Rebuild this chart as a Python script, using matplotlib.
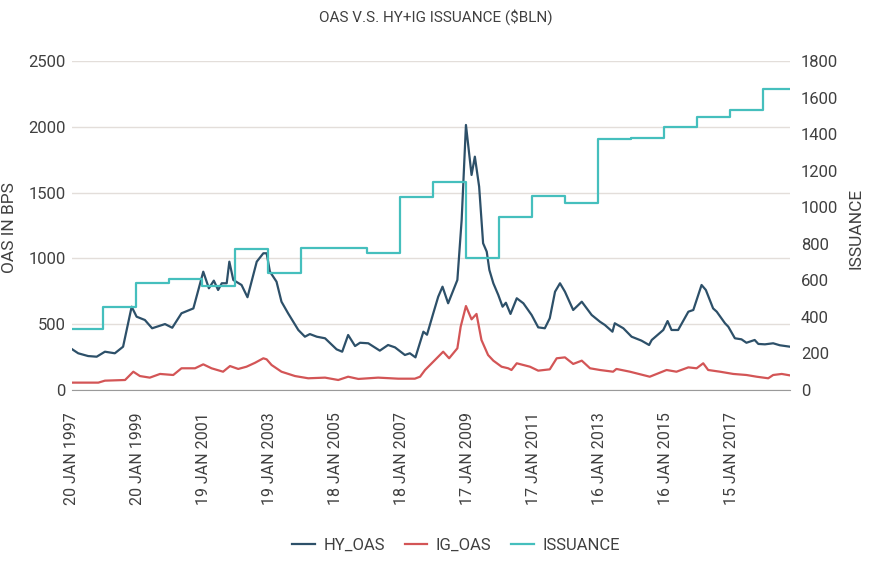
"""
OAS (HY / IG) vs emissions HY+IG anuals, dos eixos Y.
"""

import numpy as np
import pandas as pd
import matplotlib
matplotlib.use("Agg")
import matplotlib.pyplot as plt
import matplotlib.transforms as mtransforms

# --- Dades llegides del grafic (anys decimals) ---
HY_YEARS = [1997.06, 1997.24, 1997.54, 1997.80, 1998.05, 1998.35, 1998.60, 1998.86,
            1999.01, 1999.26, 1999.48, 1999.87, 2000.09, 2000.37, 2000.73, 2001.03,
            2001.20, 2001.35, 2001.48, 2001.59, 2001.74, 2001.82, 2001.94, 2002.19,
            2002.37, 2002.65, 2002.85, 2002.95, 2003.05, 2003.25, 2003.40, 2003.60,
            2003.91, 2004.11, 2004.26, 2004.47, 2004.72, 2005.07, 2005.24, 2005.42,
            2005.63, 2005.78, 2006.03, 2006.38, 2006.63, 2006.84, 2007.14, 2007.29,
            2007.46, 2007.70, 2007.81, 2008.00, 2008.15, 2008.28, 2008.45, 2008.73,
            2008.86, 2008.99, 2009.16, 2009.26, 2009.39, 2009.51, 2009.62, 2009.70,
            2009.82, 2009.97, 2010.10, 2010.20, 2010.34, 2010.53, 2010.73, 2010.98,
            2011.18, 2011.38, 2011.53, 2011.69, 2011.84, 2011.99, 2012.24, 2012.50,
            2012.80, 2013.05, 2013.20, 2013.43, 2013.50, 2013.76, 2014.01, 2014.31,
            2014.54, 2014.62, 2014.97, 2015.10, 2015.22, 2015.42, 2015.73, 2015.88,
            2016.13, 2016.26, 2016.48, 2016.59, 2016.84, 2016.94, 2017.14, 2017.34,
            2017.49, 2017.74, 2017.85, 2018.05, 2018.30, 2018.50, 2018.81]
HY_OAS = [309, 279, 258, 253, 291, 279, 329, 633,
          557, 532, 469, 501, 473, 583, 620, 899,
          773, 831, 760, 811, 811, 975, 836, 798,
          705, 975, 1039, 1039, 899, 823, 671, 583,
          456, 405, 425, 405, 393, 309, 291, 418,
          334, 359, 355, 299, 342, 324, 266, 279,
          248, 443, 420, 583, 709, 785, 659, 836,
          1292, 2014, 1634, 1773, 1545, 1115, 1051, 912,
          811, 722, 633, 663, 578, 697, 659, 570,
          476, 469, 545, 747, 811, 747, 608, 671,
          570, 519, 494, 443, 507, 469, 405, 375,
          342, 380, 456, 524, 456, 456, 595, 608,
          798, 760, 620, 595, 507, 481, 393, 385,
          359, 380, 350, 347, 355, 340, 329]

IG_YEARS = [1997.06, 1997.85, 1998.05, 1998.66, 1998.91, 1999.11, 1999.41, 1999.72,
            2000.12, 2000.37, 2000.78, 2001.03, 2001.28, 2001.63, 2001.84, 2002.09,
            2002.34, 2002.60, 2002.85, 2002.95, 2003.10, 2003.40, 2003.81, 2004.21,
            2004.72, 2005.12, 2005.42, 2005.73, 2006.33, 2006.94, 2007.44, 2007.60,
            2007.75, 2008.00, 2008.30, 2008.48, 2008.73, 2008.83, 2008.99, 2009.16,
            2009.31, 2009.46, 2009.66, 2009.82, 2010.07, 2010.27, 2010.37, 2010.53,
            2010.93, 2011.18, 2011.53, 2011.74, 2011.99, 2012.24, 2012.50, 2012.75,
            2013.05, 2013.45, 2013.55, 2013.96, 2014.56, 2015.07, 2015.37, 2015.73,
            2015.98, 2016.18, 2016.33, 2016.69, 2017.09, 2017.49, 2017.80, 2018.15,
            2018.30, 2018.56, 2018.81]
IG_OAS = [56, 56, 71, 76, 139, 106, 94, 122,
          114, 165, 165, 195, 165, 139, 182, 160,
          177, 207, 241, 233, 190, 139, 106, 89,
          94, 76, 101, 84, 94, 86, 86, 101,
          152, 215, 291, 241, 317, 481, 638, 537,
          578, 380, 266, 223, 177, 165, 152, 203,
          177, 147, 157, 241, 248, 198, 223, 165,
          152, 139, 160, 139, 101, 152, 139, 172,
          165, 203, 152, 139, 122, 114, 101, 89,
          114, 122, 111]

ISS_YEARS = [1997, 1998, 1999, 2000, 2001, 2002, 2003, 2004, 2005, 2006, 2007,
             2008, 2009, 2010, 2011, 2012, 2013, 2014, 2015, 2016, 2017, 2018]
ISSUANCE = [335, 455, 587, 605, 570, 770, 638, 775, 775, 752, 1057,
            1137, 720, 945, 1060, 1025, 1372, 1378, 1440, 1495, 1530, 1645]

TICK_DATES = ["1997-01-20", "1999-01-20", "2001-01-19", "2003-01-19", "2005-01-18",
              "2007-01-18", "2009-01-17", "2011-01-17", "2013-01-16", "2015-01-16",
              "2017-01-15"]

C_HY = "#2d5069"
C_IG = "#d35556"
C_ISS = "#45bfbd"
C_TXT = "#404040"


def dec_year(d):
    d = pd.Timestamp(d)
    return d.year + (d.dayofyear - 1) / 365.25


def main():
    plt.rcParams["font.family"] = ["Roboto", "DejaVu Sans"]
    plt.rcParams["font.size"] = 11

    fig = plt.figure(figsize=(8.71, 5.74), dpi=100)
    ax = fig.add_axes([72 / 871, 1 - 390 / 574, 718 / 871, 329 / 574])
    ax2 = ax.twinx()

    x0, x1 = HY_YEARS[0], HY_YEARS[-1]

    # emissions anuals com a esglaons
    iss_x = [x0] + ISS_YEARS[1:] + [x1]
    iss_y = ISSUANCE + [ISSUANCE[-1]]
    ax2.plot(iss_x, iss_y, drawstyle="steps-post", color=C_ISS, lw=1.6)

    ax.plot(IG_YEARS, IG_OAS, color=C_IG, lw=1.6)
    ax.plot(HY_YEARS, HY_OAS, color=C_HY, lw=1.6)

    ax.set_xlim(x0, x1)
    ax.set_ylim(0, 2500)
    ax2.set_ylim(0, 1800)
    ax.set_yticks(np.arange(0, 2501, 500))
    ax2.set_yticks(np.arange(0, 1801, 200))

    ax.set_xticks([dec_year(d) for d in TICK_DATES])
    ax.set_xticklabels([pd.Timestamp(d).strftime("%d %b %Y").upper() for d in TICK_DATES],
                       rotation=90, fontsize=11.5)
    shift = mtransforms.ScaledTranslation(4 / 100, 0, fig.dpi_scale_trans)
    for lab in ax.get_xticklabels():
        lab.set_transform(lab.get_transform() + shift)

    ax.grid(axis="y", color="#e3deda", lw=1.0)
    ax.set_axisbelow(True)
    for a in (ax, ax2):
        for s in a.spines.values():
            s.set_visible(False)
    ax.spines["bottom"].set_visible(True)
    ax.spines["bottom"].set_color("#9a9a9a")
    ax.tick_params(axis="x", length=0, pad=16, colors=C_TXT)
    ax.tick_params(axis="y", length=0, pad=4.5, colors=C_TXT, labelsize=12)
    ax2.tick_params(axis="y", length=0, pad=8, colors=C_TXT, labelsize=12)

    ax.set_ylabel("OAS IN BPS", color=C_TXT, fontsize=12.5, va="center")
    ax.yaxis.set_label_coords((9 - 72) / 718, 0.495)
    ax2.set_ylabel("ISSUANCE", color=C_TXT, fontsize=12.5, rotation=90, va="center")
    ax2.yaxis.set_label_coords((856 - 72) / 718, 0.49)
    fig.suptitle("OAS V.S. HY+IG ISSUANCE ($BLN)", y=0.985, fontsize=11, color=C_TXT)

    # llegenda a baix
    handles = [plt.Line2D([], [], color=C_HY, lw=1.6),
               plt.Line2D([], [], color=C_IG, lw=1.6),
               plt.Line2D([], [], color=C_ISS, lw=1.6)]
    leg = fig.legend(handles, ["HY_OAS", "IG_OAS", "ISSUANCE"], loc="center",
                     bbox_to_anchor=(456 / 871, 1 - 545 / 574), ncol=3, frameon=False,
                     fontsize=12, handlelength=1.35, columnspacing=1.2, handletextpad=0.5)
    for t in leg.get_texts():
        t.set_color(C_TXT)

    fig.savefig("out.png", dpi=100)
    plt.close(fig)


if __name__ == "__main__":
    main()
